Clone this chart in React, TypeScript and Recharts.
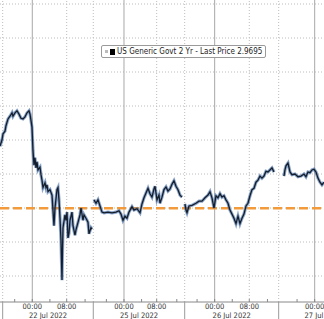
import { Line, LineChart, ReferenceLine, XAxis, YAxis } from 'recharts';

// Compressed trading hours since 00:00 22 Jul 2022 (weekend / overnight gaps removed).
const dayStarts = [0, 20.84, 41.45, 64.18];
const morningTicks = [7.82, 28.27, 49.32];
const sessionBreaks = [-6.73, 13.86, 34.64, 56.0];
const dateCenters = [3.57, 24.25, 45.32, 66.2];
const dateLabels = ['22 Jul 2022', '25 Jul 2022', '26 Jul 2022', '27 Jul 2022'];
const minorTicks = [-4, 4, 12, 16.84, 24.84, 32.84, 37.45, 45.45, 53.45, 60.18];
const yGrid = [2.87, 2.92, 2.97, 3.02, 3.07, 3.12, 3.17, 3.22, 3.27];
const lastPrice = 2.9695;

type Pt = { t: number; v: number };

const jul22: Pt[] = [
  { t: -7.34, v: 3.061 }, { t: -6.89, v: 3.07 }, { t: -6.66, v: 3.079 }, { t: -6.2, v: 3.083 },
  { t: -5.98, v: 3.091 }, { t: -5.52, v: 3.101 }, { t: -5.07, v: 3.105 }, { t: -4.61, v: 3.11 },
  { t: -4.39, v: 3.105 }, { t: -3.93, v: 3.11 }, { t: -3.48, v: 3.113 }, { t: -3.02, v: 3.108 },
  { t: -2.57, v: 3.102 }, { t: -2.11, v: 3.101 }, { t: -1.66, v: 3.104 }, { t: -1.2, v: 3.11 },
  { t: -0.75, v: 3.113 }, { t: -0.52, v: 3.108 }, { t: -0.3, v: 3.099 }, { t: -0.07, v: 3.089 },
  { t: 0.16, v: 3.055 }, { t: 0.39, v: 3.033 }, { t: 0.61, v: 3.044 }, { t: 0.84, v: 3.029 },
  { t: 1.07, v: 3.038 }, { t: 1.3, v: 3.026 }, { t: 1.75, v: 3.03 }, { t: 1.98, v: 3.019 },
  { t: 2.2, v: 3.011 }, { t: 2.43, v: 3.0 }, { t: 2.89, v: 3.007 }, { t: 3.11, v: 3.0 },
  { t: 3.34, v: 3.004 }, { t: 3.57, v: 2.994 }, { t: 4.02, v: 2.997 }, { t: 4.48, v: 2.989 },
  { t: 4.7, v: 2.967 }, { t: 4.93, v: 2.944 }, { t: 5.16, v: 2.97 }, { t: 5.61, v: 2.997 },
  { t: 5.84, v: 3.0 }, { t: 6.07, v: 2.982 }, { t: 6.3, v: 2.955 }, { t: 6.52, v: 2.923 },
  { t: 6.75, v: 2.864 }, { t: 6.86, v: 2.908 }, { t: 6.98, v: 2.941 }, { t: 7.43, v: 2.96 },
  { t: 7.66, v: 2.952 }, { t: 7.89, v: 2.964 }, { t: 8.11, v: 2.926 }, { t: 8.34, v: 2.933 },
  { t: 8.57, v: 2.952 }, { t: 9.02, v: 2.964 }, { t: 9.25, v: 2.944 }, { t: 9.7, v: 2.93 },
  { t: 9.93, v: 2.938 }, { t: 10.39, v: 2.949 }, { t: 10.84, v: 2.96 }, { t: 11.07, v: 2.97 },
  { t: 11.52, v: 2.952 }, { t: 11.75, v: 2.96 }, { t: 12.2, v: 2.955 }, { t: 12.66, v: 2.949 },
  { t: 12.89, v: 2.932 }, { t: 13.34, v: 2.941 }, { t: 13.57, v: 2.939 },
];

const jul25: Pt[] = [
  { t: 14.02, v: 2.982 }, { t: 14.48, v: 2.977 }, { t: 14.93, v: 2.982 }, { t: 15.39, v: 2.973 },
  { t: 15.84, v: 2.964 }, { t: 16.3, v: 2.963 }, { t: 17.2, v: 2.964 }, { t: 18.11, v: 2.963 },
  { t: 19.02, v: 2.964 }, { t: 19.7, v: 2.966 }, { t: 20.16, v: 2.961 }, { t: 20.61, v: 2.952 },
  { t: 21.07, v: 2.958 }, { t: 21.52, v: 2.955 }, { t: 21.98, v: 2.964 }, { t: 22.66, v: 2.972 },
  { t: 23.11, v: 2.967 }, { t: 23.8, v: 2.969 }, { t: 24.48, v: 2.963 }, { t: 24.93, v: 2.976 },
  { t: 25.39, v: 2.985 }, { t: 25.84, v: 2.992 }, { t: 26.3, v: 2.999 }, { t: 26.75, v: 2.991 },
  { t: 27.2, v: 2.986 }, { t: 27.66, v: 2.998 }, { t: 27.89, v: 3.002 }, { t: 28.34, v: 2.982 },
  { t: 28.8, v: 2.989 }, { t: 29.02, v: 2.977 }, { t: 29.48, v: 2.986 }, { t: 29.93, v: 2.997 },
  { t: 30.39, v: 3.001 }, { t: 30.84, v: 2.995 }, { t: 31.3, v: 2.998 }, { t: 31.75, v: 3.005 },
  { t: 32.2, v: 3.01 }, { t: 32.66, v: 3.002 }, { t: 33.11, v: 2.997 }, { t: 33.57, v: 2.989 },
  { t: 34.02, v: 2.986 },
];

const jul26: Pt[] = [
  { t: 34.7, v: 2.976 }, { t: 34.93, v: 2.967 }, { t: 35.16, v: 2.963 }, { t: 35.61, v: 2.973 },
  { t: 36.3, v: 2.974 }, { t: 37.2, v: 2.977 }, { t: 37.89, v: 2.98 }, { t: 38.57, v: 2.98 },
  { t: 39.25, v: 2.985 }, { t: 39.93, v: 2.989 }, { t: 40.39, v: 2.994 }, { t: 40.84, v: 2.985 },
  { t: 41.3, v: 2.97 }, { t: 41.75, v: 2.988 }, { t: 42.2, v: 2.985 }, { t: 42.66, v: 2.991 },
  { t: 43.11, v: 2.986 }, { t: 43.57, v: 2.988 }, { t: 44.02, v: 2.982 }, { t: 44.48, v: 2.977 },
  { t: 44.93, v: 2.967 }, { t: 45.39, v: 2.961 }, { t: 45.84, v: 2.955 }, { t: 46.3, v: 2.947 },
  { t: 46.75, v: 2.958 }, { t: 47.2, v: 2.947 }, { t: 47.66, v: 2.955 }, { t: 48.11, v: 2.961 },
  { t: 48.57, v: 2.973 }, { t: 49.02, v: 2.977 }, { t: 49.48, v: 2.988 }, { t: 49.93, v: 2.997 },
  { t: 50.39, v: 2.999 }, { t: 50.84, v: 3.008 }, { t: 51.3, v: 3.011 }, { t: 51.75, v: 3.017 },
  { t: 52.2, v: 3.014 }, { t: 52.66, v: 3.017 }, { t: 53.11, v: 3.024 }, { t: 53.57, v: 3.023 },
  { t: 54.02, v: 3.026 }, { t: 54.48, v: 3.029 }, { t: 54.93, v: 3.023 },
];

const jul27: Pt[] = [
  { t: 57.2, v: 3.017 }, { t: 57.43, v: 3.026 }, { t: 57.66, v: 3.032 }, { t: 58.11, v: 3.036 },
  { t: 58.57, v: 3.023 }, { t: 59.02, v: 3.019 }, { t: 59.7, v: 3.02 }, { t: 60.39, v: 3.016 },
  { t: 61.07, v: 3.017 }, { t: 61.75, v: 3.02 }, { t: 62.2, v: 3.016 }, { t: 62.66, v: 3.023 },
  { t: 63.11, v: 3.022 }, { t: 63.57, v: 3.026 }, { t: 64.02, v: 3.027 }, { t: 64.48, v: 3.023 },
  { t: 64.93, v: 3.014 }, { t: 65.39, v: 3.008 }, { t: 65.84, v: 3.004 }, { t: 66.3, v: 3.008 },
];

const sessions = [jul22, jul25, jul26, jul27];

const FONT = "'Liberation Sans Narrow', 'DejaVu Sans Condensed', 'Liberation Sans', sans-serif";
const allTicks = [...sessionBreaks, ...minorTicks, ...dayStarts, ...morningTicks, ...dateCenters];

function TimeTick({ x, y, payload }: any) {
  const v = payload.value as number;
  if (sessionBreaks.includes(v)) {
    return <line x1={x} x2={x} y1={y} y2={y + 17} stroke="#9a9a9a" />;
  }
  if (minorTicks.includes(v)) {
    return <line x1={x} x2={x} y1={y - 3} y2={y} stroke="#888" />;
  }
  const di = dateCenters.indexOf(v);
  if (di >= 0) {
    return (
      <text x={x} y={y + 16} textAnchor="middle" fontSize={7.5} fontFamily={FONT} fill="#333">
        {dateLabels[di]}
      </text>
    );
  }
  const label = dayStarts.includes(v) ? '00:00' : '08:00';
  return (
    <g>
      <line x1={x} x2={x} y1={y - 3} y2={y} stroke="#888" />
      <text x={x} y={y + 7} textAnchor="middle" fontSize={7.5} fontFamily={FONT} fill="#333">
        {label}
      </text>
    </g>
  );
}

function LegendBox() {
  return (
    <div
      style={{
        position: 'absolute',
        left: 101,
        top: 45,
        display: 'flex',
        alignItems: 'center',
        height: 11,
        padding: '0 3px',
        border: '1px solid #9a9a9a',
        borderRadius: 2,
        background: '#fff',
        fontFamily: FONT,
        fontSize: 8,
        color: '#222',
        whiteSpace: 'nowrap',
      }}
    >
      <span style={{ width: 3, height: 3, background: '#bbb', marginRight: 2 }} />
      <span style={{ width: 5, height: 6, background: '#000', marginRight: 2 }} />
      US Generic Govt 2 Yr - Last Price 2.9695
    </div>
  );
}

export default function App() {
  return (
    <div style={{ position: 'absolute', left: 0, top: 0, width: 324, height: 319, background: '#fff' }}>
      <LineChart width={324} height={319} margin={{ top: 0, right: 0, bottom: 0, left: 0 }}>
        <XAxis
          type="number"
          dataKey="t"
          domain={[-7.34, 66.3]}
          allowDataOverflow
          ticks={allTicks}
          interval={0}
          height={17}
          tickSize={0}
          tickMargin={0}
          tickLine={false}
          axisLine={{ stroke: '#888' }}
          tick={<TimeTick />}
        />
        <YAxis hide type="number" domain={[2.8318, 3.2759]} allowDataOverflow />
        {yGrid.map((v) => (
          <ReferenceLine key={`h${v}`} y={v} stroke="#bdbdbd" strokeDasharray="1 2" />
        ))}
        {[...morningTicks, ...sessionBreaks].map((t) => (
          <ReferenceLine key={`d${t}`} x={t} stroke="#bdbdbd" strokeDasharray="1 2" />
        ))}
        {dayStarts.map((t) => (
          <ReferenceLine key={`s${t}`} x={t} stroke="#a8a8a8" />
        ))}
        <ReferenceLine y={lastPrice} stroke="#f39a3a" strokeWidth={2.5} strokeDasharray="9 4" />
        {/* blue halo under the dark price line, Bloomberg style */}
        {sessions.map((s, i) => (
          <Line
            key={`halo${i}`}
            data={s}
            dataKey="v"
            name={`halo${i}`}
            type="linear"
            stroke="#3f6aa6"
            strokeWidth={3.2}
            strokeOpacity={0.6}
            dot={false}
            activeDot={false}
            isAnimationActive={false}
          />
        ))}
        {sessions.map((s, i) => (
          <Line
            key={`line${i}`}
            data={s}
            dataKey="v"
            name={`line${i}`}
            type="linear"
            stroke="#141d2b"
            strokeWidth={1.3}
            dot={false}
            activeDot={false}
            isAnimationActive={false}
          />
        ))}
      </LineChart>
      <LegendBox />
    </div>
  );
}
